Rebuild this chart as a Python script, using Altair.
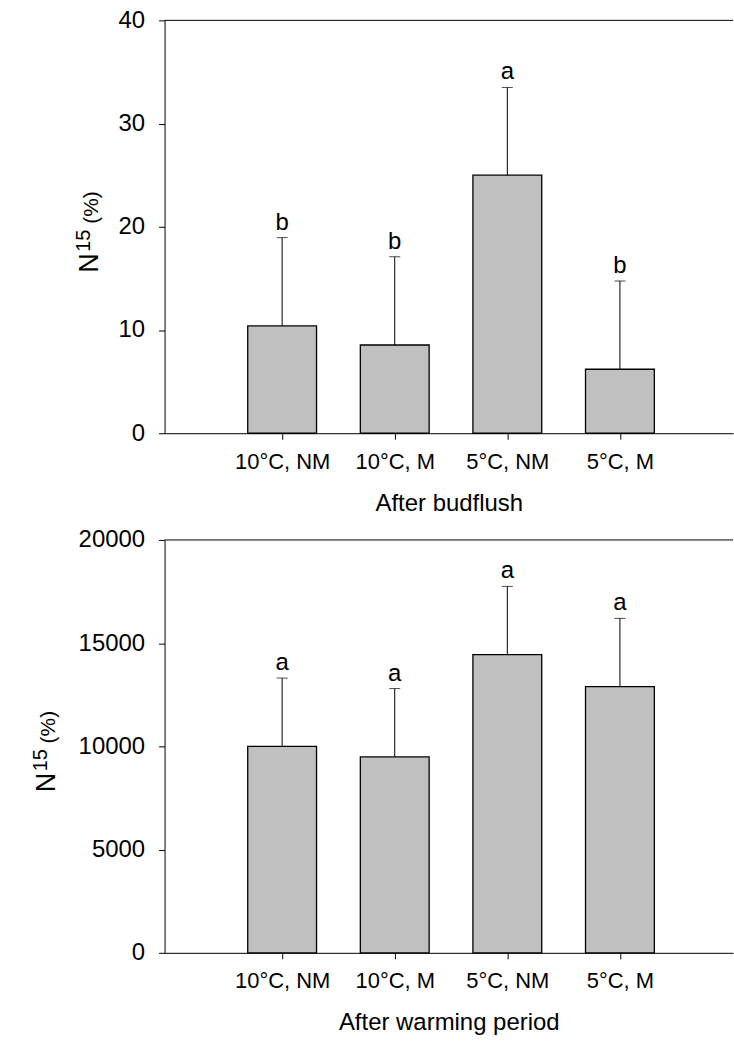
import json
import altair as alt
import pandas as pd

# ---- data ----
categories = ["10°C, NM", "10°C, M", "5°C, NM", "5°C, M"]

budflush_mean = [10.4, 8.55, 25.0, 6.2]
budflush_err = [8.55, 8.55, 8.5, 8.55]
budflush_letters = ["b", "b", "a", "b"]

warming_mean = [10000, 9490, 14440, 12890]
warming_err = [3310, 3310, 3310, 3310]
warming_letters = ["a", "a", "a", "a"]

FONT = "Liberation Sans"
W = 570
H = 414

label_list = [""] + categories
label_expr = json.dumps(label_list) + "[datum.value]"


def ytitle(xb):
    one = alt.Data(values=[{}])
    common = dict(angle=270, align="left", baseline="alphabetic", font=FONT, color="black")
    t_n = alt.Chart(one).mark_text(fontSize=27, **common).encode(
        x=alt.value(xb), y=alt.value(253), text=alt.value("N"))
    t_sup = alt.Chart(one).mark_text(fontSize=20, **common).encode(
        x=alt.value(xb - 8), y=alt.value(232), text=alt.value("15"))
    t_pct = alt.Chart(one).mark_text(fontSize=21, **common).encode(
        x=alt.value(xb), y=alt.value(204), text=alt.value("(%)"))
    return [t_n, t_sup, t_pct]


def panel(means, errs, letters, ymax, ystep, xtitle, title_x):
    df = pd.DataFrame({
        "pos": list(range(1, len(categories) + 1)),
        "cat": categories,
        "mean": means,
        "upper": [m + e for m, e in zip(means, errs)],
        "letter": letters,
    })
    base = alt.Chart(df)
    x = alt.X(
        "pos:Q",
        scale=alt.Scale(domain=[0, 4.96], nice=False, zero=False),
        axis=alt.Axis(
            values=[1, 2, 3, 4], labelExpr=label_expr, title=xtitle,
            grid=False, tickSize=6, labelFontSize=22, titleFontSize=24,
            labelPadding=12, titlePadding=19,
        ),
    )
    yscale = alt.Scale(domain=[0, ymax], nice=False)
    y = alt.Y(
        "mean:Q", scale=yscale,
        axis=alt.Axis(
            values=list(range(0, ymax + 1, ystep)), format="d", title=None,
            grid=False, tickSize=6, labelFontSize=24, labelPadding=14,
        ),
    )
    bars = base.mark_bar(size=69, color="#c0c0c0", stroke="black", strokeWidth=1.3).encode(x=x, y=y)
    err = base.mark_rule(color="black", strokeWidth=1).encode(
        x="pos:Q", y="mean:Q", y2="upper:Q")
    cap = base.mark_tick(orient="horizontal", size=11, thickness=1, color="black").encode(
        x="pos:Q", y="upper:Q")
    txt = base.mark_text(baseline="alphabetic", dy=-8, fontSize=24, font=FONT, color="black").encode(
        x="pos:Q", y="upper:Q", text="letter:N")
    top_line = alt.Chart(alt.Data(values=[{}])).mark_rule(color="black", strokeWidth=1).encode(
        x=alt.value(0), x2=alt.value(W), y=alt.value(0))

    return alt.layer(bars, err, cap, txt, top_line, *ytitle(title_x)).properties(width=W, height=H)


top = panel(budflush_mean, budflush_err, budflush_letters, 40, 10, "After budflush", -67)
bottom = panel(warming_mean, warming_err, warming_letters, 20000, 5000, "After warming period", -110)

chart = alt.vconcat(top, bottom, spacing=13).properties(
    padding={"left": 31, "top": 7, "right": 0, "bottom": 0},
    background="white",
).configure_view(stroke=None).configure_axis(
    domainColor="black", tickColor="black", labelColor="black", titleColor="black",
    labelFont=FONT, titleFont=FONT, titleFontWeight="normal",
    domainWidth=1, tickWidth=1,
)

chart.save("out.html", embed_options={"renderer": "svg", "actions": False})
